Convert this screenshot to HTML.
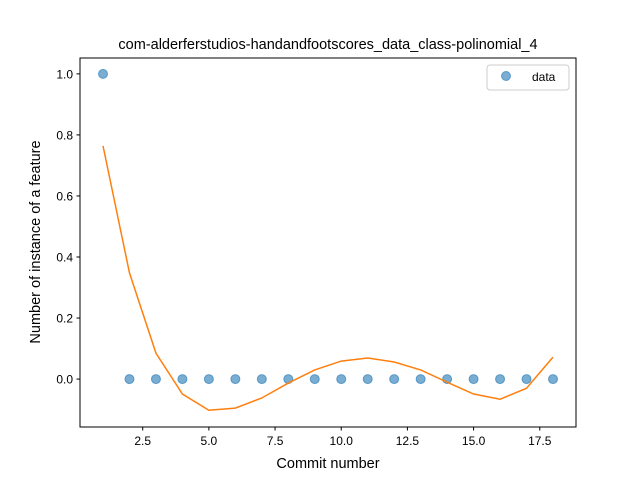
<!DOCTYPE html>
<html><head><meta charset="utf-8"><style>
body{margin:0;background:#fff;}
svg{display:block;font-family:"Liberation Sans","DejaVu Sans",sans-serif;}
</style></head><body>
<svg id="chart" width="640" height="480">
<rect x="0" y="0" width="640" height="480" fill="#fff"/>
<text x="328" y="49" font-size="14.5" text-anchor="middle">com-alderferstudios-handandfootscores_data_class-polinomial_4</text>
<g id="plot"></g>
<rect x="80" y="58" width="496" height="369" fill="none" stroke="#000" stroke-width="1"/>
<text x="328" y="468" font-size="14.5" text-anchor="middle">Commit number</text>
<text transform="translate(40,242) rotate(-90)" font-size="14.5" text-anchor="middle">Number of instance of a feature</text>
<g>
<rect x="487" y="65" width="82" height="25" rx="3" fill="#fff" stroke="#ccc"/>
<circle cx="506" cy="76" r="4.5" fill="#1f77b4" fill-opacity="0.6" stroke="#1f77b4" stroke-opacity="0.6"/>
<text x="532" y="81" font-size="12">data</text>
</g>
</svg>
<script>
const xs=[1,2,3,4,5,6,7,8,9,10,11,12,13,14,15,16,17,18];
const dataVals=[1,0,0,0,0,0,0,0,0,0,0,0,0,0,0,0,0,0];
const fitVals=[0.764,0.348,0.085,-0.049,-0.102,-0.095,-0.062,-0.013,0.03,0.059,0.069,0.056,0.03,-0.01,-0.049,-0.066,-0.03,0.072];
const xTicks=[2.5,5.0,7.5,10.0,12.5,15.0,17.5];
const yTicks=[0.0,0.2,0.4,0.6,0.8,1.0];
const NS="http://www.w3.org/2000/svg";
const sx=v=>80+(v-0.131)*(496/(18.869-0.131));
const sy=v=>427-(v+0.157)*(369/(1.052+0.157));
const g=document.getElementById('plot');
function mk(t,a){const e=document.createElementNS(NS,t);for(const k in a)e.setAttribute(k,a[k]);g.appendChild(e);return e;}
xTicks.forEach(t=>{
 const l=mk('line',{x1:sx(t),x2:sx(t),y1:427,y2:430.5,stroke:'#000'});
 
 
 const tx=mk('text',{x:sx(t),y:445,'font-size':12,'text-anchor':'middle'});tx.textContent=t.toFixed(1);
 
 
});
yTicks.forEach(t=>{
 const l=mk('line',{x1:76.5,x2:80,y1:sy(t),y2:sy(t),stroke:'#000'});
 
 
 const tx=mk('text',{x:73,y:sy(t)+4.5,'font-size':12,'text-anchor':'end'});tx.textContent=t.toFixed(1);
 
 
});
xs.forEach((x,i)=>{
 const c=mk('circle',{cx:sx(x),cy:sy(dataVals[i]),r:4.5,fill:'#1f77b4','fill-opacity':0.6,stroke:'#1f77b4','stroke-opacity':0.6});
 
 
});
const p=mk('polyline',{points:xs.map((x,i)=>sx(x)+','+sy(fitVals[i])).join(' '),fill:'none',stroke:'#ff7f0e','stroke-width':1.5});


</script>
</body></html>
